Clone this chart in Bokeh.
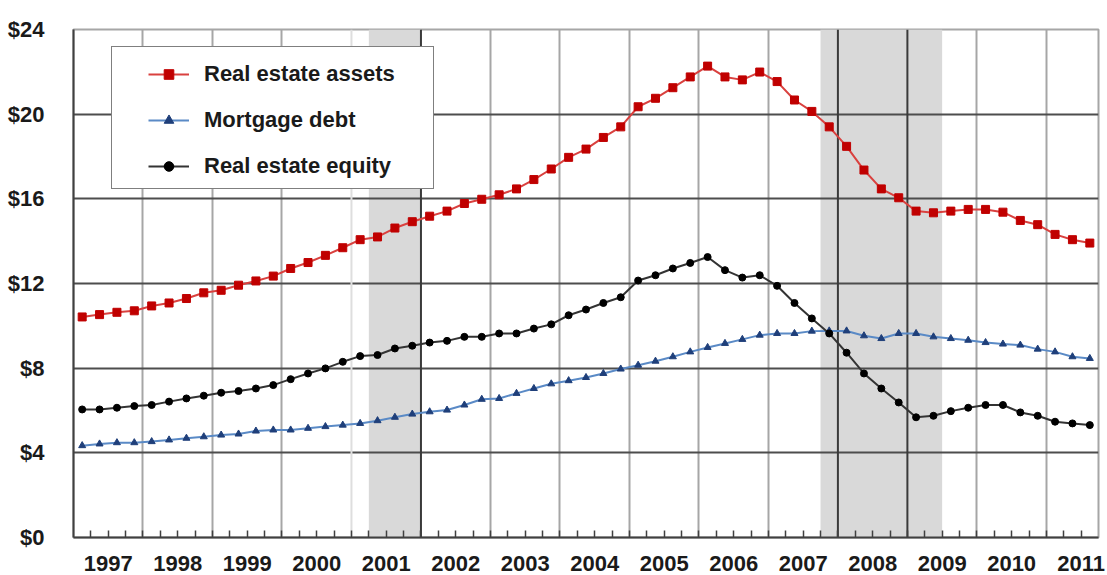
from bokeh.plotting import figure
from bokeh.models import Range1d, FixedTicker, Legend, LegendItem, ColumnDataSource, Span
from bokeh.embed import file_html
from bokeh.resources import INLINE

# ---------------- data (trillions of dollars, quarterly 1997Q1 - 2011Q3) ----------------
years = [str(y) for y in range(1997, 2012)]
quarters = [f"{y}Q{q}" for y in range(1997, 2012) for q in range(1, 5)][:59]

assets = [10.42, 10.53, 10.64, 10.71, 10.94, 11.08, 11.29, 11.56, 11.68, 11.92,
          12.12, 12.35, 12.71, 12.99, 13.33, 13.69, 14.07, 14.20, 14.62, 14.92,
          15.18, 15.42, 15.78, 15.98, 16.19, 16.47, 16.91, 17.41, 17.96, 18.35,
          18.90, 19.40, 20.35, 20.75, 21.25, 21.76, 22.27, 21.76, 21.62, 21.99,
          21.54, 20.67, 20.13, 19.40, 18.48, 17.36, 16.47, 16.05, 15.42, 15.34,
          15.42, 15.50, 15.50, 15.37, 14.98, 14.78, 14.32, 14.07, 13.91]
debt = [4.34, 4.42, 4.48, 4.48, 4.53, 4.61, 4.69, 4.76, 4.84, 4.89,
        5.03, 5.08, 5.08, 5.16, 5.24, 5.31, 5.39, 5.52, 5.68, 5.83,
        5.94, 6.02, 6.26, 6.53, 6.57, 6.81, 7.04, 7.26, 7.41, 7.56,
        7.75, 7.96, 8.14, 8.33, 8.54, 8.77, 8.98, 9.17, 9.36, 9.56,
        9.64, 9.64, 9.75, 9.76, 9.76, 9.53, 9.40, 9.64, 9.64, 9.48,
        9.40, 9.32, 9.21, 9.14, 9.09, 8.90, 8.77, 8.54, 8.46]
equity = [6.05, 6.05, 6.13, 6.21, 6.26, 6.42, 6.57, 6.70, 6.84, 6.92,
          7.04, 7.20, 7.48, 7.75, 7.99, 8.30, 8.57, 8.62, 8.93, 9.06,
          9.21, 9.29, 9.48, 9.48, 9.64, 9.64, 9.87, 10.07, 10.50, 10.77,
          11.08, 11.35, 12.14, 12.39, 12.71, 12.97, 13.25, 12.63, 12.28, 12.39,
          11.89, 11.08, 10.35, 9.64, 8.73, 7.75, 7.04, 6.38, 5.68, 5.75,
          5.97, 6.13, 6.26, 6.26, 5.91, 5.75, 5.47, 5.39, 5.31]
recession_first = ["2001Q2", "2007Q4"]
recession_last = ["2001Q4", "2009Q2"]
y_ticks = [0, 4, 8, 12, 16, 20, 24]
y_tick_labels = ["$0", "$4", "$8", "$12", "$16", "$20", "$24"]
series_names = ["Real estate assets", "Mortgage debt", "Real estate equity"]

# ---------------- derived positions ----------------
n = len(quarters)
xs = [i + 0.5 for i in range(n)]
src = ColumnDataSource(dict(x=xs, assets=assets, debt=debt, equity=equity))
rec_left = [quarters.index(q) for q in recession_first]
rec_right = [quarters.index(q) + 1 for q in recession_last]
year_bounds = [4 * k for k in range(1, len(years)) if 4 * k < n]
dark_bounds = [b for b in year_bounds if any(l < b <= r for l, r in zip(rec_left, rec_right))]
faint_bounds = [b for b in year_bounds if any(l - 1 <= b < l for l in rec_left) and b not in dark_bounds]
grid_bounds = [b for b in year_bounds if b not in dark_bounds and b not in faint_bounds]
year_centers = [4 * k + 2 for k in range(len(years))]

FONT = "Liberation Sans"

p = figure(width=1107, height=575, output_backend="svg", toolbar_location=None,
           x_range=Range1d(0, n), y_range=Range1d(0, 24))
p.min_border_left = 73
p.min_border_right = 9
p.min_border_top = 29
p.min_border_bottom = 38
p.background_fill_color = "white"
p.border_fill_color = "white"
p.outline_line_color = "#a6a6a6"
p.outline_line_width = 2

# recession shading
p.quad(left=rec_left, right=rec_right, bottom=0, top=24,
       fill_color="#d9d9d9", line_color=None, level="image")

# grids
p.xgrid.ticker = FixedTicker(ticks=grid_bounds)
p.xgrid.grid_line_color = "#a6a6a6"
p.xgrid.grid_line_width = 2
p.ygrid.ticker = FixedTicker(ticks=[4, 8, 12, 16, 20])
p.ygrid.grid_line_color = "#4d4d4d"
p.ygrid.grid_line_width = 1.8
for b in dark_bounds:
    p.add_layout(Span(location=b, dimension="height", line_color="#3a3a3a",
                      line_width=2, level="underlay"))
for b in faint_bounds:
    p.add_layout(Span(location=b, dimension="height", line_color="#dedede",
                      line_width=2, level="underlay"))

# axes
xa = p.xaxis[0]
xa.ticker = FixedTicker(ticks=year_centers, minor_ticks=list(range(1, n)))
xa.major_label_overrides = {c: y for c, y in zip(year_centers, years)}
xa.major_tick_line_color = None
xa.minor_tick_in = 7
xa.minor_tick_out = 0
xa.minor_tick_line_color = "#404040"
xa.minor_tick_line_width = 1.5
xa.axis_line_color = "#404040"
xa.axis_line_width = 2
xa.major_label_standoff = 12
xa.major_label_text_font = FONT
xa.major_label_text_font_style = "bold"
xa.major_label_text_font_size = "22px"
xa.major_label_text_color = "#1a1a1a"

ya = p.yaxis[0]
ya.ticker = FixedTicker(ticks=y_ticks)
ya.major_label_overrides = {t: l for t, l in zip(y_ticks, y_tick_labels)}
ya.major_tick_line_color = None
ya.minor_tick_line_color = None
ya.axis_line_color = "#404040"
ya.axis_line_width = 2
ya.major_label_standoff = 23
ya.major_label_text_font = FONT
ya.major_label_text_font_style = "bold"
ya.major_label_text_font_size = "22px"
ya.major_label_text_color = "#1a1a1a"

# series
l1 = p.line("x", "assets", source=src, line_color="#d9413f", line_width=2)
m1 = p.scatter("x", "assets", source=src, marker="square", size=8,
               fill_color="#c00000", line_color="#c00000")
l2 = p.line("x", "debt", source=src, line_color="#5a8ac6", line_width=2)
m2 = p.scatter("x", "debt", source=src, marker="triangle", size=7,
               fill_color="#1f3f7a", line_color="#1f3f7a")
l3 = p.line("x", "equity", source=src, line_color="#333333", line_width=2)
m3 = p.scatter("x", "equity", source=src, marker="circle", size=7,
               fill_color="#000000", line_color="#000000")

# legend frame (drawn as an empty legend entry)
dummy = p.line(x=[], y=[], line_alpha=0)
frame = Legend(items=[LegendItem(label=" ", renderers=[dummy])], location=(38, 348),
               padding=0, spacing=0, margin=0, glyph_width=1, glyph_height=141,
               label_width=320, label_height=141, label_standoff=0,
               border_line_color="#000000", border_line_width=1.5,
               background_fill_color="white", background_fill_alpha=1.0)
p.add_layout(frame, "center")

legend = Legend(items=[LegendItem(label=series_names[0], renderers=[l1, m1]),
                       LegendItem(label=series_names[1], renderers=[l2, m2]),
                       LegendItem(label=series_names[2], renderers=[l3, m3])],
                location=(63, 346), padding=12, spacing=20, margin=0,
                glyph_width=41, glyph_height=24, label_height=24, label_standoff=15,
                border_line_alpha=0, background_fill_alpha=0,
                label_text_font=FONT, label_text_font_style="bold",
                label_text_font_size="22px", label_text_color="#1a1a1a")
p.add_layout(legend, "center")

open("out.html", "w").write(file_html(p, INLINE))
